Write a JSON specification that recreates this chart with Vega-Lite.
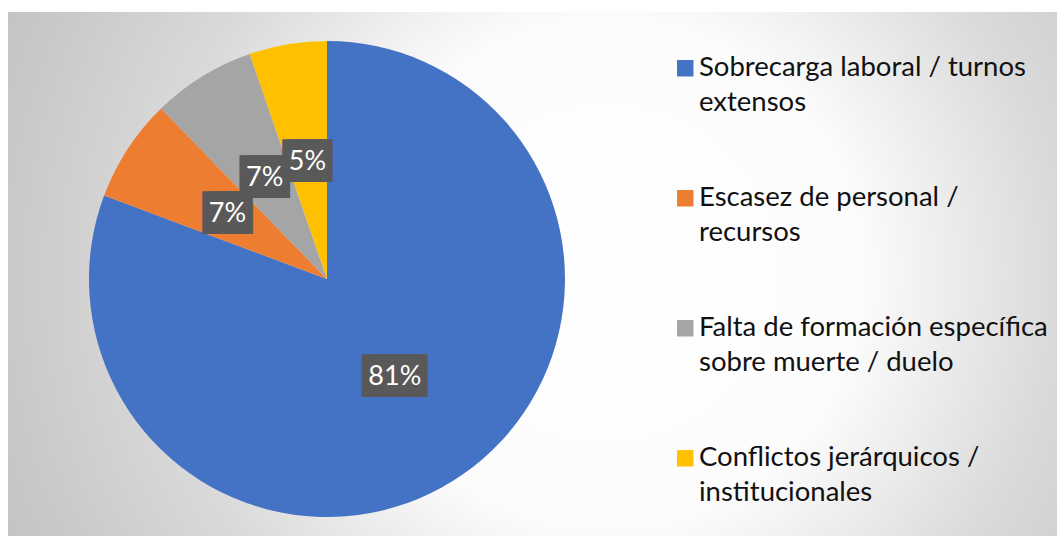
{
  "$schema": "https://vega.github.io/schema/vega-lite/v6.json",
  "width": 1052,
  "height": 524,
  "padding": {"left": 8, "top": 12, "right": 0, "bottom": 0},
  "autosize": "none",
  "background": "#ffffff",
  "config": {
    "view": {"stroke": "#b4b4b4", "strokeWidth": 1},
    "style": {"guide-label": {"lineHeight": 35}}
  },
  "datasets": {
    "pie": [
      {"cat": "Sobrecarga laboral / turnos extensos", "n": 46, "label": "81%", "o": 1},
      {"cat": "Escasez de personal / recursos", "n": 4, "label": "7%", "o": 2},
      {"cat": "Falta de formación específica sobre muerte / duelo", "n": 4, "label": "7%", "o": 3},
      {"cat": "Conflictos jerárquicos / institucionales", "n": 3, "label": "5%", "o": 4}
    ]
  },
  "layer": [
    {
      "data": {"values": [{}]},
      "mark": {
        "type": "rect",
        "clip": true,
        "fill": {
          "gradient": "radial",
          "x1": 0.5, "y1": 0.5, "r1": 0,
          "x2": 0.5, "y2": 0.5, "r2": 0.5,
          "stops": [
            {"offset": 0, "color": "#ffffff"},
            {"offset": 0.36, "color": "#fcfcfc"},
            {"offset": 0.64, "color": "#dadada"},
            {"offset": 0.86, "color": "#c9c9c9"},
            {"offset": 1, "color": "#c0c0c0"}
          ]
        }
      },
      "encoding": {
        "x": {"value": -100},
        "x2": {"value": 1300},
        "y": {"value": -438},
        "y2": {"value": 962}
      }
    },
    {
      "data": {"name": "pie"},
      "mark": {"type": "arc", "outerRadius": 238},
      "encoding": {
        "x": {"value": 319},
        "y": {"value": 267},
        "theta": {"field": "n", "type": "quantitative", "stack": true},
        "order": {"field": "o", "type": "quantitative"},
        "color": {
          "field": "cat",
          "type": "nominal",
          "scale": {
            "domain": [
              "Sobrecarga laboral / turnos extensos",
              "Escasez de personal / recursos",
              "Falta de formación específica sobre muerte / duelo",
              "Conflictos jerárquicos / institucionales"
            ],
            "range": ["#4472C4", "#ED7D31", "#A5A5A5", "#FFC000"]
          },
          "legend": {
            "orient": "none",
            "legendX": 663.5,
            "legendY": 42.5,
            "title": null,
            "padding": 0,
            "symbolType": "square",
            "symbolSize": 270,
            "symbolStrokeWidth": 0,
            "symbolOpacity": 1,
            "labelFont": "Lato",
            "labelFontSize": 27.5,
            "labelColor": "#111111",
            "labelOffset": 0,
            "labelLimit": 0,
            "rowPadding": 66,
            "labelExpr": "datum.label == 'Sobrecarga laboral / turnos extensos' ? ['Sobrecarga laboral / turnos', 'extensos'] : datum.label == 'Escasez de personal / recursos' ? ['Escasez de personal /', 'recursos'] : datum.label == 'Falta de formación específica sobre muerte / duelo' ? ['Falta de formación específica', 'sobre muerte / duelo'] : ['Conflictos jerárquicos /', 'institucionales']"
          }
        }
      }
    },
    {
      "data": {"name": "pie"},
      "mark": {"type": "text", "radius": 119, "font": "DejaVu Sans Mono", "fontSize": 36, "color": "#595959", "baseline": "middle", "align": "center", "dx": -3.3},
      "encoding": {
        "x": {"value": 319},
        "y": {"value": 267},
        "theta": {"field": "n", "type": "quantitative", "stack": true},
        "order": {"field": "o", "type": "quantitative"},
        "text": {"value": "██"}
      }
    },
    {
      "data": {"name": "pie"},
      "mark": {"type": "text", "radius": 119, "font": "DejaVu Sans Mono", "fontSize": 36, "color": "#595959", "baseline": "middle", "align": "center", "dx": 3.3},
      "encoding": {
        "x": {"value": 319},
        "y": {"value": 267},
        "theta": {"field": "n", "type": "quantitative", "stack": true},
        "order": {"field": "o", "type": "quantitative"},
        "text": {"value": "██"}
      }
    },
    {
      "data": {"name": "pie"},
      "mark": {"type": "text", "radius": 119, "font": "DejaVu Sans Mono", "fontSize": 36, "color": "#595959", "baseline": "middle", "align": "center"},
      "encoding": {
        "x": {"value": 319},
        "y": {"value": 267},
        "theta": {"field": "n", "type": "quantitative", "stack": true},
        "order": {"field": "o", "type": "quantitative"},
        "text": {"condition": {"test": "datum.n > 10", "value": "███"}, "value": ""}
      }
    },
    {
      "data": {"name": "pie"},
      "mark": {"type": "text", "radius": 119, "font": "Lato", "fontSize": 27, "color": "#ffffff", "baseline": "middle", "align": "center"},
      "encoding": {
        "x": {"value": 319},
        "y": {"value": 267},
        "theta": {"field": "n", "type": "quantitative", "stack": true},
        "order": {"field": "o", "type": "quantitative"},
        "text": {"field": "label", "type": "nominal"}
      }
    }
  ]
}
